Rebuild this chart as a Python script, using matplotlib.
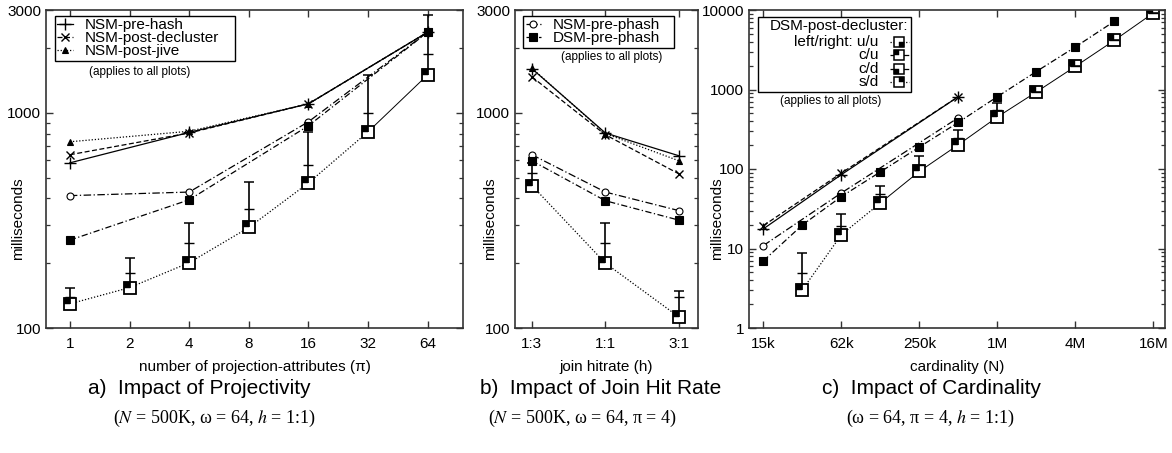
import numpy as np
import matplotlib.pyplot as plt
from matplotlib.path import Path
from matplotlib.lines import Line2D
from matplotlib.patches import Rectangle

plt.rcParams['font.family'] = ['Liberation Sans', 'DejaVu Sans']
plt.rcParams['mathtext.fontset'] = 'stix'

# ---- a) projectivity ----
pi_all = [1, 2, 4, 8, 16, 32, 64]
pi_nsm = [1, 4, 16, 64]
nsm_pre_hash_a = [585, 810, 1100, 2370]
nsm_post_decl_a = [638, 805, 1100, 2370]
nsm_post_jive_a = [733, 820, 1100, 2370]
nsm_pre_phash_a = [412, 428, 908, 2370]
dsm_pre_phash_a = [256, 394, 870, 2370]
decl_a = [129.5, 154, 201, 293, 472, 816, 1502]
decl_mid_a = [140, 181, 248, 357, 573, 1000, 1880]
decl_hi_a = [153, 212, 309, 479, 816, 1502, 2855]

# ---- b) join hit rate ----
h_labels = ['1:3', '1:1', '3:1']
nsm_pre_hash_b = [1602, 805, 631]
nsm_post_decl_b = [1468, 790, 520]
nsm_post_jive_b = [1610, 800, 598]
nsm_pre_phash_b = [638, 428, 351]
dsm_pre_phash_b = [598, 390, 317]
decl_b = [459, 200, 112.5]
decl_mid_b = [526, 248, 140]
decl_hi_b = [585, 308, 148]

# ---- c) cardinality ----
card_labels = ['15k', '62k', '250k', '1M', '4M', '16M']
card_ticks = [15625, 62500, 250000, 1000000, 4000000, 16000000]
card_all = [15625, 31250, 62500, 125000, 250000, 500000, 1000000,
            2000000, 4000000, 8000000, 16000000]
card_nsm = [15625, 62500, 500000]
nsm_pre_hash_c = [17.7, 85, 813]
nsm_post_decl_c = [19.4, 89, 813]
nsm_pre_phash_c = [10.9, 50, 442]
card_dsm = card_all[:10]
dsm_pre_phash_c = [7, 19.8, 45, 92, 189, 386, 812, 1683, 3427, 7200]
card_decl = card_all[1:]
decl_c = [3.03, 14.9, 37.4, 93.3, 202, 451, 930, 1950, 4150, 9160]
decl_mid_c = [4.9, 19.4, 48.9, 113, 245, 557, 930, 1950, 4150, 9160]
decl_hi_c = [8.9, 26.8, 60.4, 144, 312, 676, 930, 1950, 4150, 9160]

# marker: small filled square in a corner of the big open square
def corner(dx, dy):
    v = [(0, 0), (dx, 0), (dx, dy), (0, dy), (0, 0)]
    return Path(v, [Path.MOVETO, Path.LINETO, Path.LINETO, Path.LINETO, Path.CLOSEPOLY])

UL = corner(-1, 1)
UR = corner(1, 1)
LL = corner(-1, -1)
LR = corner(1, -1)

LW = 0.9
st_hash = dict(color='k', ls='-', lw=LW, marker='+', ms=8, mew=1.0)
st_decl = dict(color='k', ls=(0, (4, 2)), lw=LW, marker='x', ms=6, mew=1.0)
st_jive = dict(color='k', ls=(0, (1, 1.5)), lw=LW, marker='^', ms=5, mfc='k', mew=0.8)
st_nphash = dict(color='k', ls=(0, (6, 2, 1, 2)), lw=LW, marker='o', ms=5, mfc='white', mew=0.8)
st_dphash = dict(color='k', ls=(0, (5, 2, 1, 2)), lw=LW, marker='s', ms=5.5, mfc='k', mew=0.8)
sq_big = dict(ls='none', marker='s', ms=8.5, mfc='white', mec='k', mew=1.3, color='k')
sq_small = dict(ls='none', marker=UL, ms=8.5, mfc='k', mec='k', mew=0.3, color='k')


def errbars(ax, x, lo, mid, hi):
    ax.vlines(x, lo, hi, color='k', lw=1.2, zorder=3)
    ax.plot(x, hi, ls='none', marker='_', ms=7, mew=1.1, color='k', zorder=3)
    ax.plot(x, mid, ls='none', marker='_', ms=7, mew=1.0, color='k', zorder=3)


def style_axes(ax):
    for s in ax.spines.values():
        s.set_linewidth(1.2)
        s.set_color('#333333')
    ax.tick_params(which='both', direction='in', top=True, right=True,
                   labelsize=11, color='#333333')
    ax.tick_params(which='major', length=5, width=1.0)
    ax.tick_params(which='minor', length=3, width=0.9)
    ax.tick_params(axis='x', pad=6.5)
    ax.tick_params(axis='y', pad=3.5)


fig = plt.figure(figsize=(11.72, 4.53), dpi=100)
H = 453.0
W = 1172.0
bot = 1 - 328 / H
hgt = (328 - 10) / H

# ---------------- panel a ----------------
ax1 = fig.add_axes([46 / W, bot, (463 - 46) / W, hgt])
ax1.set_xscale('log', base=2)
ax1.set_yscale('log')
ax1.plot(pi_nsm, nsm_pre_hash_a, **st_hash)
ax1.plot(pi_nsm, nsm_post_decl_a, **st_decl)
ax1.plot(pi_nsm, nsm_post_jive_a, **st_jive)
ax1.plot(pi_nsm, nsm_pre_phash_a, **st_nphash)
ax1.plot(pi_nsm, dsm_pre_phash_a, **st_dphash)
errbars(ax1, pi_all, decl_a, decl_mid_a, decl_hi_a)
ax1.plot(pi_all[:6], decl_a[:6], color='k', ls=(0, (1, 1.5)), lw=LW)
ax1.plot(pi_all[5:], decl_a[5:], color='k', ls='-', lw=0.7)
ax1.plot(pi_all, decl_a, **sq_big)
ax1.plot(pi_all, decl_a, **sq_small)
ax1.set_xlim(2 ** -0.4, 2 ** 6.59)
ax1.set_ylim(100, 3000)
ax1.set_xticks(pi_all, [str(p) for p in pi_all])
ax1.xaxis.set_minor_locator(plt.NullLocator())
ax1.set_yticks([100, 1000, 3000], ['100', '1000', '3000'])
ax1.set_yticks([200, 300, 400, 500, 600, 700, 800, 900, 2000], minor=True)
ax1.yaxis.set_minor_formatter(plt.NullFormatter())
style_axes(ax1)
ax1.set_xlabel('number of projection-attributes (\u03c0)', fontsize=11)
ax1.set_ylabel('milliseconds', fontsize=11)
ax1.xaxis.set_label_coords(0.5, -0.1)
ax1.yaxis.set_label_coords(-0.050, 0.343)

handles_a = [Line2D([], [], **st_hash), Line2D([], [], **st_decl), Line2D([], [], **st_jive)]
leg = ax1.legend(handles_a, ['NSM-pre-hash', 'NSM-post-decluster', 'NSM-post-jive'],
                 loc='upper left', bbox_to_anchor=(0.0216, 0.5, 180 / 417, 0.482),
                 mode='expand', borderaxespad=0,
                 fontsize=11, frameon=True, fancybox=False, edgecolor='k',
                 framealpha=1, handlelength=1.0, handletextpad=0.8,
                 labelspacing=-0.05, borderpad=0.15)
leg.get_frame().set_linewidth(1.0)
ax1.text(0.2254, 0.8066, '(applies to all plots)', transform=ax1.transAxes,
         ha='center', va='center', fontsize=8.5)

# ---------------- panel b ----------------
ax2 = fig.add_axes([515 / W, bot, (698 - 515) / W, hgt])
ax2.set_yscale('log')
hx = np.arange(len(h_labels))
ax2.plot(hx, nsm_pre_hash_b, **st_hash)
ax2.plot(hx, nsm_post_decl_b, **st_decl)
ax2.plot(hx, nsm_post_jive_b, **st_jive)
ax2.plot(hx, nsm_pre_phash_b, **st_nphash)
ax2.plot(hx, dsm_pre_phash_b, **st_dphash)
errbars(ax2, hx, decl_b, decl_mid_b, decl_hi_b)
ax2.plot(hx, decl_b, color='k', ls=(0, (1, 1.5)), lw=LW)
ax2.plot(hx, decl_b, **sq_big)
ax2.plot(hx, decl_b, **sq_small)
ax2.set_xlim(-0.23, 2.26)
ax2.set_ylim(100, 3000)
ax2.set_xticks(hx, h_labels)
ax2.set_yticks([100, 1000, 3000], ['100', '1000', '3000'])
ax2.set_yticks([200, 300, 400, 500, 600, 700, 800, 900, 2000], minor=True)
ax2.yaxis.set_minor_formatter(plt.NullFormatter())
style_axes(ax2)
ax2.set_xlabel('join hitrate (h)', fontsize=11)
ax2.set_ylabel('milliseconds', fontsize=11)
ax2.xaxis.set_label_coords(0.5, -0.1)
ax2.yaxis.set_label_coords(-0.098, 0.343)

handles_b = [Line2D([], [], **st_nphash), Line2D([], [], **st_dphash)]
leg = ax2.legend(handles_b, ['NSM-pre-phash', 'DSM-pre-phash'],
                 loc='upper left', bbox_to_anchor=(0.045, 0.5, 151 / 183, 0.482),
                 mode='expand', borderaxespad=0,
                 fontsize=11, frameon=True, fancybox=False, edgecolor='k',
                 framealpha=1, handlelength=1.0, handletextpad=0.8,
                 labelspacing=-0.05, borderpad=0.15)
leg.get_frame().set_linewidth(1.0)
ax2.text(0.530, 0.852, '(applies to all plots)', transform=ax2.transAxes,
         ha='center', va='center', fontsize=8.5)

# ---------------- panel c ----------------
ax3 = fig.add_axes([749 / W, bot, (1165 - 749) / W, hgt])
ax3.set_xscale('log', base=2)
ax3.set_yscale('log')
ax3.plot(card_nsm, nsm_pre_hash_c, **st_hash)
ax3.plot(card_nsm, nsm_post_decl_c, **st_decl)
ax3.plot(card_nsm, nsm_pre_phash_c, **st_nphash)
ax3.plot(card_dsm, dsm_pre_phash_c, **st_dphash)
errbars(ax3, card_decl, decl_c, decl_mid_c, decl_hi_c)
ax3.plot(card_decl[:3], decl_c[:3], color='k', ls=(0, (1, 1.5)), lw=LW)
ax3.plot(card_decl[2:], decl_c[2:], color='k', ls='-', lw=0.7)
ax3.plot(card_decl, decl_c, **sq_big)
ax3.plot(card_decl, decl_c, **sq_small)
ax3.set_xlim(15625 * 2 ** -0.37, 15625 * 2 ** 10.3)
ax3.set_ylim(1, 10000)
ax3.set_xticks(card_ticks, card_labels)
ax3.xaxis.set_minor_locator(plt.NullLocator())
ax3.set_yticks([1, 10, 100, 1000, 10000], ['1', '10', '100', '1000', '10000'])
ax3.yaxis.set_minor_formatter(plt.NullFormatter())
style_axes(ax3)
ax3.set_xlabel('cardinality (N)', fontsize=11)
ax3.set_ylabel('milliseconds', fontsize=11)
ax3.xaxis.set_label_coords(0.5, -0.1)
ax3.yaxis.set_label_coords(-0.060, 0.343)

# legend of panel c drawn by hand (right aligned labels, composite markers)
ax3.add_patch(Rectangle((0.021, 0.743), (911 - 757.7) / 416, 0.236,
                        transform=ax3.transAxes, fill=True, facecolor='white',
                        edgecolor='k', lw=1.0, zorder=5))
ax3.text(0.384, 0.950, 'DSM-post-decluster:', transform=ax3.transAxes,
         ha='right', va='center', fontsize=11, zorder=6)
leg_rows = [('left/right: u/u', LR, (0, (1, 1.5))),
            ('c/u', UL, (0, (5, 2, 1, 2))),
            ('c/d', LL, (0, (5, 2, 1, 2))),
            ('s/d', UR, (0, (1, 1.5)))]
for i, (lab, mk, ls) in enumerate(leg_rows):
    yy = 0.900 - i * 0.0425
    ax3.text(0.312, yy, lab, transform=ax3.transAxes, ha='right', va='center',
             fontsize=11, zorder=6)
    ax3.plot([0.338, 0.384], [yy, yy], transform=ax3.transAxes, color='k',
             ls=ls, lw=LW, zorder=6)
    ax3.plot([0.361], [yy], transform=ax3.transAxes, zorder=7,
             **dict(sq_big, ms=7, mew=1.1))
    ax3.plot([0.361], [yy], transform=ax3.transAxes, zorder=7,
             **dict(sq_small, marker=mk, ms=7))
ax3.text(0.196, 0.714, '(applies to all plots)', transform=ax3.transAxes,
         ha='center', va='center', fontsize=8.5)

# ---------------- captions ----------------
cap_font = ['Liberation Sans', 'DejaVu Sans']
ser_font = ['Liberation Serif', 'DejaVu Serif']
fig.text(88 / W, 1 - 388 / H, 'a)  Impact of Projectivity', fontsize=15,
         family=cap_font, va='center')
fig.text(480 / W, 1 - 388 / H, 'b)  Impact of Join Hit Rate', fontsize=15,
         family=cap_font, va='center')
fig.text(822 / W, 1 - 388 / H, 'c)  Impact of Cardinality', fontsize=15,
         family=cap_font, va='center')
fig.text(113 / W, 1 - 418 / H, '($N$ = 500K, \u03c9 = 64, $h$ = 1:1)',
         fontsize=13, family=ser_font, va='center')
fig.text(488 / W, 1 - 418 / H, '($N$ = 500K, \u03c9 = 64, \u03c0 = 4)',
         fontsize=13, family=ser_font, va='center')
fig.text(846 / W, 1 - 418 / H, '(\u03c9 = 64, \u03c0 = 4, $h$ = 1:1)',
         fontsize=13, family=ser_font, va='center')

fig.savefig('out.png', dpi=100)
